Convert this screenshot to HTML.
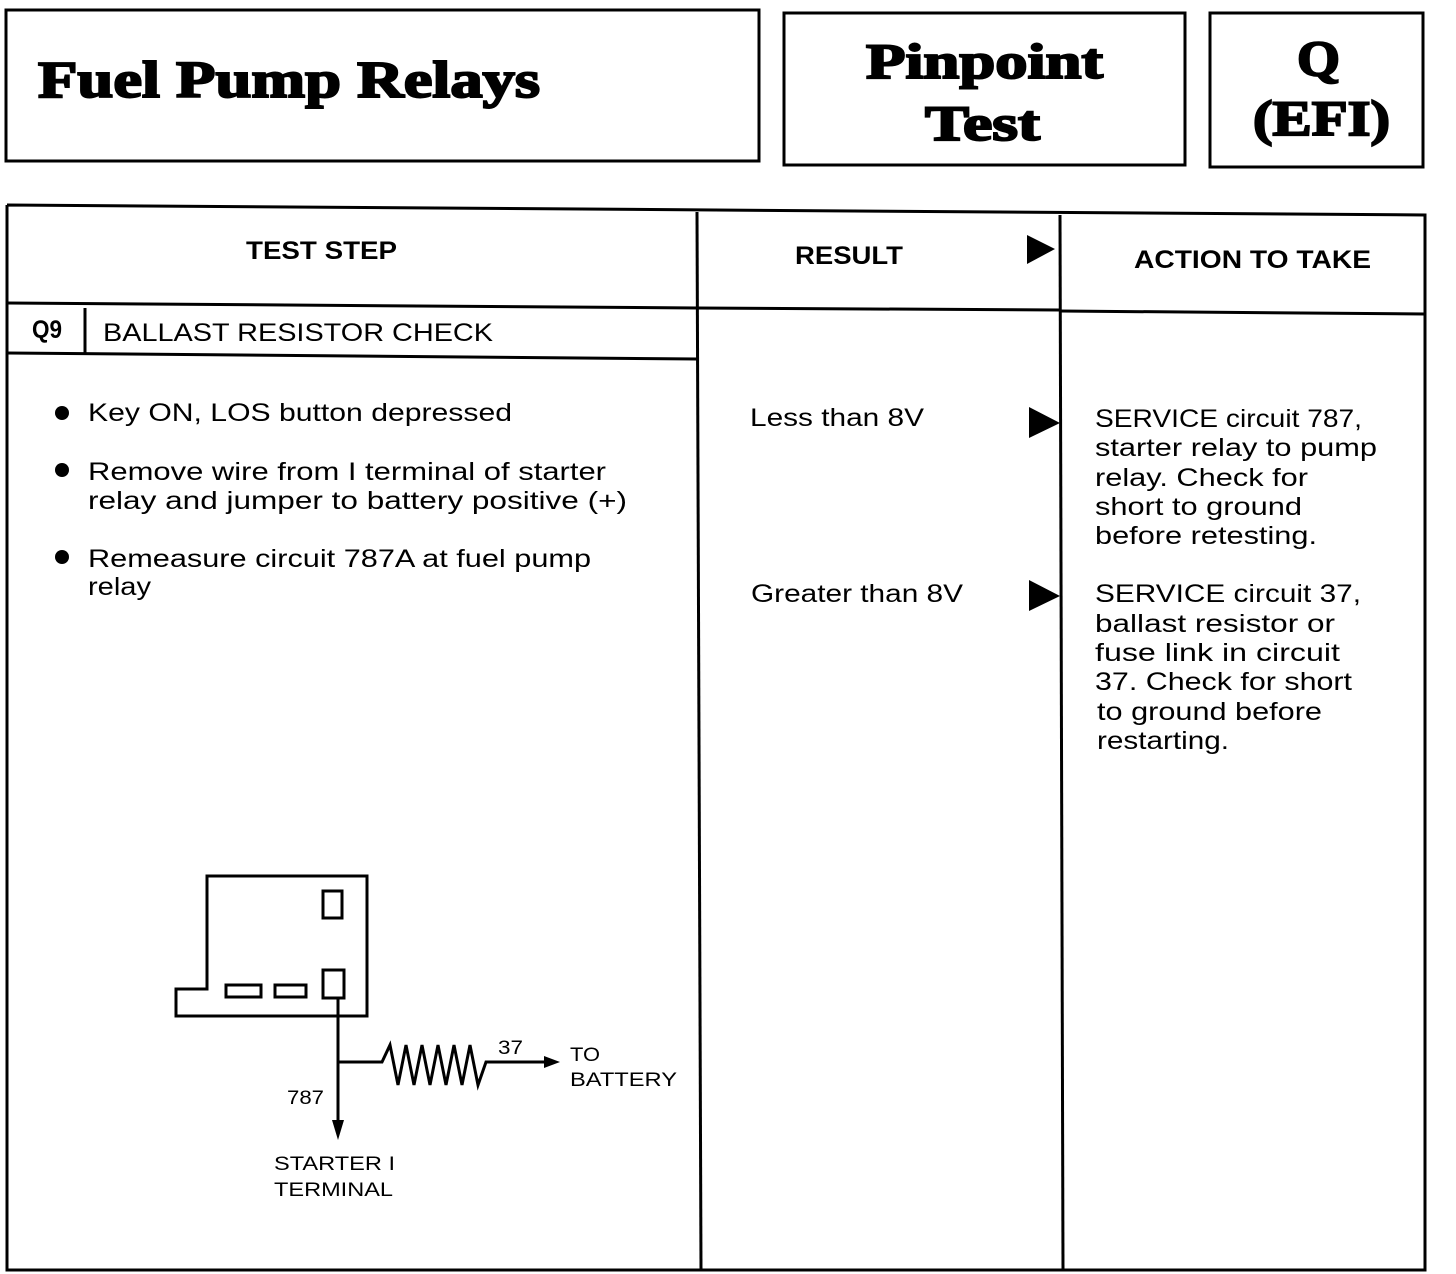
<!DOCTYPE html>
<html><head><meta charset="utf-8"><style>
html,body{margin:0;padding:0;background:#fff}
svg{display:block}
text{font-family:"Liberation Sans",sans-serif;fill:#000}
.t{font-size:25px}
.h{font-size:25px;font-weight:bold}
.ti{font-family:"Liberation Serif",serif;font-weight:bold;stroke:#000;stroke-width:2px}
.s{font-size:19px}
</style></head><body>
<svg width="1456" height="1274" viewBox="0 0 1456 1274" xmlns="http://www.w3.org/2000/svg">
<g fill="none" stroke="#000" stroke-width="3">
<rect x="6" y="10" width="753" height="151"/>
<rect x="784" y="13" width="401" height="152"/>
<rect x="1210" y="13" width="213" height="154"/>
<polyline points="7,205 1425,215 1425,1270 7,1270 7,205"/>
<line x1="697" y1="212" x2="701" y2="1270"/>
<line x1="1060" y1="215" x2="1063" y2="1270"/>
<line x1="7" y1="303" x2="697" y2="308"/>
<line x1="697" y1="308" x2="1060" y2="310"/>
<line x1="1060" y1="311" x2="1425" y2="314"/>
<line x1="7" y1="353" x2="697" y2="359"/>
<line x1="85" y1="308" x2="85" y2="353"/>
<polygon points="207,876 367,876 367,1016 176,1016 176,989 207,989"/>
<rect x="323" y="891" width="19" height="27"/>
<rect x="226" y="985" width="35" height="12"/>
<rect x="275" y="985" width="31" height="12"/>
<rect x="323" y="970" width="21" height="28"/>
<line x1="338" y1="998" x2="338" y2="1130"/>
<polyline points="338,1062 382,1062 390,1045 398,1085 406,1045 414,1085 422,1045 430,1085 438,1045 446,1085 454,1045 462,1085 470,1045 478,1085 486,1062 548,1062"/>
</g>
<polygon points="332,1120 344,1120 338,1140" fill="#000"/>
<polygon points="544,1056 544,1068 560,1062" fill="#000"/>
<polygon points="1027,235 1027,264 1055,249" fill="#000"/>
<polygon points="1029,407 1029,438 1060,423" fill="#000"/>
<polygon points="1029,580 1029,611 1060,596" fill="#000"/>
<g lengthAdjust="spacingAndGlyphs">
<text class="ti" x="38" y="97" font-size="52" textLength="502" lengthAdjust="spacingAndGlyphs">Fuel Pump Relays</text>
<text class="ti" x="866" y="78" font-size="50" textLength="237" lengthAdjust="spacingAndGlyphs">Pinpoint</text>
<text class="ti" x="925" y="140" font-size="50" textLength="115" lengthAdjust="spacingAndGlyphs">Test</text>
<text class="ti" x="1297" y="75" font-size="50" textLength="43" lengthAdjust="spacingAndGlyphs">Q</text>
<text class="ti" x="1253" y="135" font-size="50" textLength="137" lengthAdjust="spacingAndGlyphs">(EFI)</text>
<text class="h" x="246" y="259" textLength="151" lengthAdjust="spacingAndGlyphs">TEST STEP</text>
<text class="h" x="795" y="264" textLength="108" lengthAdjust="spacingAndGlyphs">RESULT</text>
<text class="h" x="1134" y="268" textLength="237" lengthAdjust="spacingAndGlyphs">ACTION TO TAKE</text>
<text class="h" x="32" y="338" font-size="23" textLength="30" lengthAdjust="spacingAndGlyphs">Q9</text>
<text class="t" x="103" y="341" textLength="390" lengthAdjust="spacingAndGlyphs">BALLAST RESISTOR CHECK</text>
<text class="t" x="88" y="421" textLength="424" lengthAdjust="spacingAndGlyphs">Key ON, LOS button depressed</text>
<text class="t" x="88" y="480" textLength="518" lengthAdjust="spacingAndGlyphs">Remove wire from I terminal of starter</text>
<text class="t" x="88" y="509" textLength="539" lengthAdjust="spacingAndGlyphs">relay and jumper to battery positive (+)</text>
<text class="t" x="88" y="567" textLength="503" lengthAdjust="spacingAndGlyphs">Remeasure circuit 787A at fuel pump</text>
<text class="t" x="88" y="595" textLength="63" lengthAdjust="spacingAndGlyphs">relay</text>
<text class="t" x="750" y="426" textLength="174" lengthAdjust="spacingAndGlyphs">Less than 8V</text>
<text class="t" x="751" y="602" textLength="212" lengthAdjust="spacingAndGlyphs">Greater than 8V</text>
<text class="t" x="1095" y="427" textLength="267" lengthAdjust="spacingAndGlyphs">SERVICE circuit 787,</text>
<text class="t" x="1095" y="456" textLength="282" lengthAdjust="spacingAndGlyphs">starter relay to pump</text>
<text class="t" x="1095" y="486" textLength="213" lengthAdjust="spacingAndGlyphs">relay. Check for</text>
<text class="t" x="1095" y="515" textLength="207" lengthAdjust="spacingAndGlyphs">short to ground</text>
<text class="t" x="1095" y="544" textLength="222" lengthAdjust="spacingAndGlyphs">before retesting.</text>
<text class="t" x="1095" y="602" textLength="266" lengthAdjust="spacingAndGlyphs">SERVICE circuit 37,</text>
<text class="t" x="1095" y="632" textLength="240" lengthAdjust="spacingAndGlyphs">ballast resistor or</text>
<text class="t" x="1095" y="661" textLength="245" lengthAdjust="spacingAndGlyphs">fuse link in circuit</text>
<text class="t" x="1095" y="690" textLength="257" lengthAdjust="spacingAndGlyphs">37. Check for short</text>
<text class="t" x="1097" y="720" textLength="225" lengthAdjust="spacingAndGlyphs">to ground before</text>
<text class="t" x="1097" y="749" textLength="132" lengthAdjust="spacingAndGlyphs">restarting.</text>
<text class="s" x="498" y="1054" textLength="25" lengthAdjust="spacingAndGlyphs">37</text>
<text class="s" x="570" y="1061" textLength="30" lengthAdjust="spacingAndGlyphs">TO</text>
<text class="s" x="570" y="1086" textLength="107" lengthAdjust="spacingAndGlyphs">BATTERY</text>
<text class="s" x="287" y="1104" textLength="37" lengthAdjust="spacingAndGlyphs">787</text>
<text class="s" x="274" y="1170" textLength="121" lengthAdjust="spacingAndGlyphs">STARTER I</text>
<text class="s" x="274" y="1196" textLength="119" lengthAdjust="spacingAndGlyphs">TERMINAL</text>
</g>
<circle cx="62" cy="413" r="7" fill="#000"/>
<circle cx="62" cy="470" r="7" fill="#000"/>
<circle cx="62" cy="557" r="7" fill="#000"/>
</svg>
</body></html>
